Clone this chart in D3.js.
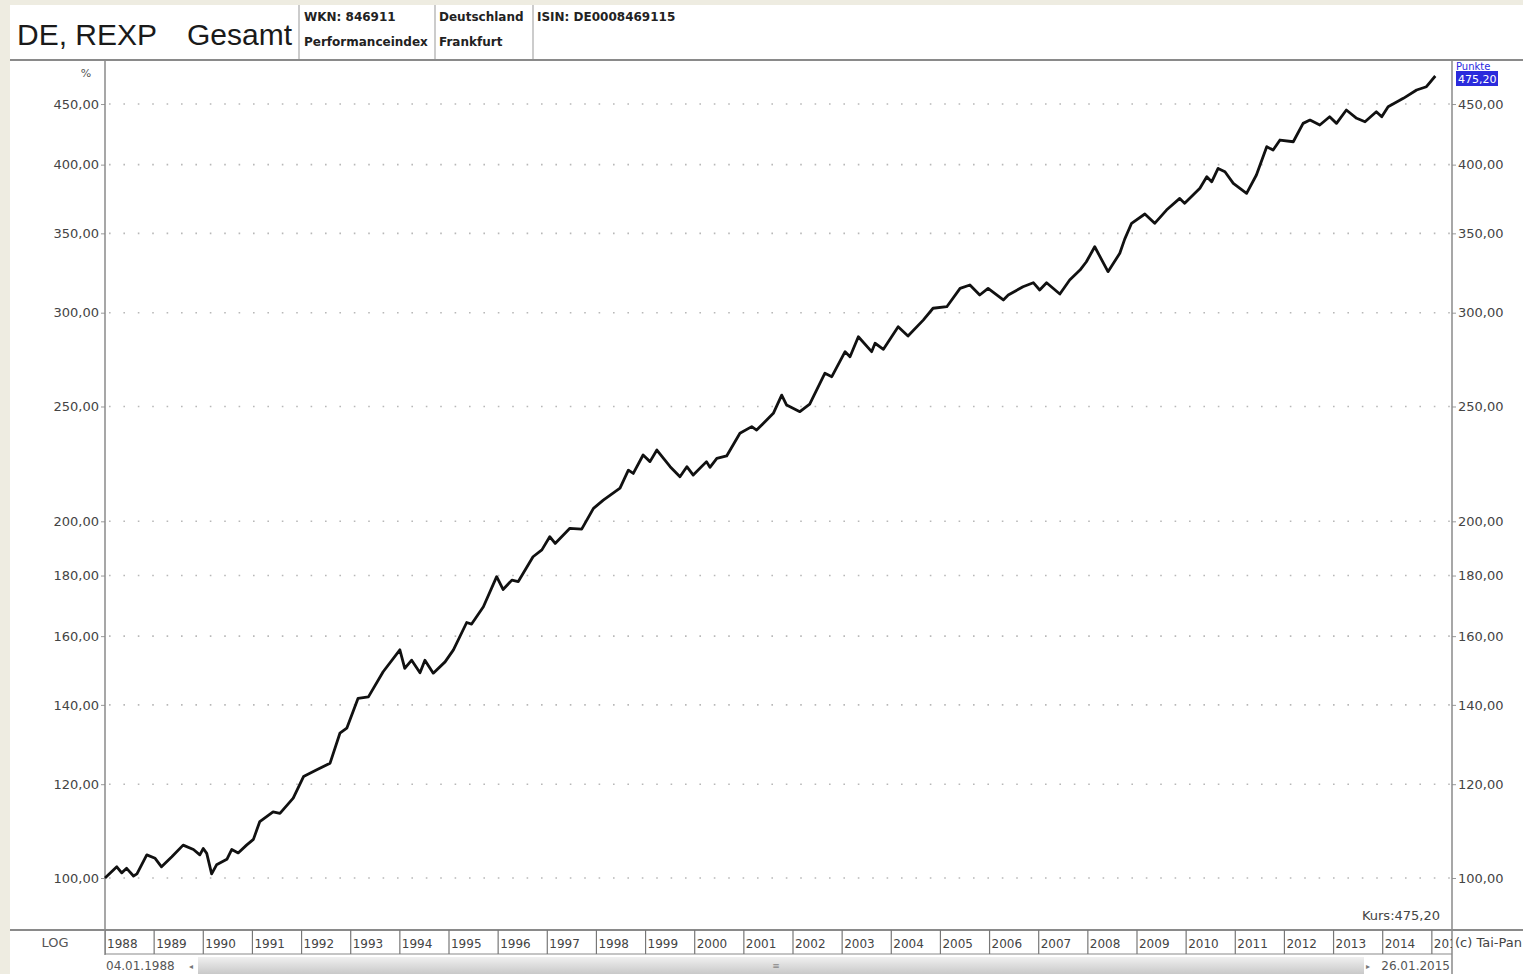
<!DOCTYPE html>
<html>
<head>
<meta charset="utf-8">
<script src="https://cdn.jsdelivr.net/npm/d3@7"></script>
<style>
body { margin: 0; background: #eeece1; }
svg { display: block; }
text { font-family: "DejaVu Sans", sans-serif; }
</style>
</head>
<body>
<svg id="chart"></svg>
<script>
// REXP Performanceindex (decimal year, points)
var years = [1988.00,1988.24,1988.34,1988.44,1988.58,1988.65,1988.85,1989.02,1989.15,1989.36,
  1989.59,1989.80,1989.93,1990.00,1990.07,1990.17,1990.27,1990.48,1990.58,1990.71,
  1990.88,1991.02,1991.15,1991.42,1991.56,1991.83,1992.04,1992.31,1992.58,1992.78,
  1992.92,1993.15,1993.36,1993.66,1994.00,1994.10,1994.24,1994.41,1994.51,1994.68,
  1994.92,1995.09,1995.36,1995.46,1995.70,1995.97,1996.10,1996.28,1996.41,1996.71,
  1996.89,1997.05,1997.16,1997.46,1997.70,1997.94,1998.14,1998.48,1998.65,1998.75,
  1998.95,1999.09,1999.23,1999.50,1999.70,1999.84,1999.97,2000.24,2000.31,2000.45,
  2000.65,2000.92,2001.16,2001.26,2001.60,2001.77,2001.87,2002.14,2002.34,2002.65,
  2002.79,2003.06,2003.16,2003.33,2003.60,2003.67,2003.84,2004.14,2004.34,2004.65,
  2004.85,2005.13,2005.40,2005.60,2005.80,2005.97,2006.28,2006.38,2006.68,2006.89,
  2007.02,2007.16,2007.43,2007.63,2007.84,2007.97,2008.14,2008.41,2008.65,2008.75,
  2008.89,2009.16,2009.36,2009.60,2009.87,2009.97,2010.28,2010.42,2010.52,2010.65,
  2010.79,2010.96,2011.23,2011.43,2011.64,2011.77,2011.91,2012.18,2012.38,2012.52,
  2012.72,2012.92,2013.06,2013.26,2013.47,2013.64,2013.87,2013.98,2014.11,2014.42,
  2014.69,2014.89,2015.07];
var values = [100.0,102.2,101.0,101.9,100.4,100.8,104.6,103.9,102.2,104.2,
  106.6,105.7,104.6,105.9,104.9,100.8,102.6,103.7,105.7,105.0,
  106.6,107.8,111.6,113.7,113.4,116.8,121.8,123.4,125.0,132.5,
  133.8,141.8,142.2,149.3,155.8,150.3,152.7,149.0,152.7,148.9,
  152.2,155.8,164.3,163.8,169.4,179.6,175.2,178.4,177.9,186.7,
  189.2,194.1,191.6,197.3,197.0,205.1,208.4,213.3,220.9,219.5,
  227.5,224.6,229.7,222.4,218.1,222.4,218.8,224.6,222.1,226.0,
  227.1,237.3,240.4,238.8,246.7,255.6,250.7,247.5,251.2,266.7,
  264.9,278.1,275.4,286.3,278.1,282.7,279.4,291.9,286.7,295.7,
  302.6,303.5,314.5,316.6,310.5,314.5,307.5,310.5,315.5,318.0,
  313.5,318.0,311.1,319.7,325.9,331.2,341.0,324.9,336.7,346.1,
  356.9,363.4,356.9,366.2,374.6,371.0,382.0,390.7,386.9,397.1,
  394.5,385.7,378.3,392.0,414.2,411.5,419.6,418.2,433.4,436.2,
  432.0,439.0,433.4,444.8,437.7,434.8,443.3,439.0,447.7,455.0,
  462.4,465.4,475.2];
var yTicks = [100, 120, 140, 160, 180, 200, 250, 300, 350, 400, 450];
var yearLabels = [1988,1989,1990,1991,1992,1993,1994,1995,1996,1997,1998,1999,2000,2001,
  2002,2003,2004,2005,2006,2007,2008,2009,2010,2011,2012,2013,2014,2015];
var lastValue = '475,20';

var W = 1523, H = 974;
var plotL = 105, plotR = 1452, plotT = 60, plotB = 930;

var fmt = function (d) { return d.toFixed(2).replace('.', ','); };

var svg = d3.select('#chart').attr('width', W).attr('height', H);

svg.append('rect').attr('x', 10).attr('y', 5).attr('width', W - 10).attr('height', H - 5).attr('fill', '#fff');

var x = d3.scaleLinear().domain([1988, 2015.41]).range([plotL, plotR]);
var y = d3.scaleLog().domain([90.39, 490.2]).range([plotB, plotT]);

// header
svg.append('text').attr('x', 17).attr('y', 45).text('DE, REXP')
  .style('font-family', '"Liberation Sans", Arial, sans-serif').style('font-size', '30px').attr('fill', '#1a1a1a');
svg.append('text').attr('x', 187).attr('y', 45).text('Gesamt')
  .style('font-family', '"Liberation Sans", Arial, sans-serif').style('font-size', '30px').attr('fill', '#1a1a1a');

[299, 435, 533].forEach(function (px) {
  svg.append('line').attr('x1', px).attr('x2', px).attr('y1', 5).attr('y2', 59)
    .attr('stroke', '#999').attr('stroke-width', 1);
});
var header = [
  {x: 304, y: 21, t: 'WKN: 846911'},
  {x: 304, y: 46, t: 'Performanceindex'},
  {x: 439, y: 21, t: 'Deutschland'},
  {x: 439, y: 46, t: 'Frankfurt'},
  {x: 537, y: 21, t: 'ISIN: DE0008469115'}
];
svg.selectAll('text.hdr').data(header).enter().append('text')
  .attr('class', 'hdr')
  .attr('x', function (d) { return d.x; })
  .attr('y', function (d) { return d.y; })
  .text(function (d) { return d.t; })
  .style('font-size', '12px').style('font-weight', 'bold').attr('fill', '#222');

svg.append('line').attr('x1', 10).attr('x2', W).attr('y1', 60).attr('y2', 60)
  .attr('stroke', '#8a8a8a').attr('stroke-width', 2);

// dotted grid
svg.selectAll('line.grid').data(yTicks).enter().append('line')
  .attr('class', 'grid')
  .attr('x1', plotL + 4).attr('x2', plotR)
  .attr('y1', function (d) { return y(d); })
  .attr('y2', function (d) { return y(d); })
  .attr('stroke', '#b8b8b8').attr('stroke-width', 1.6)
  .attr('stroke-dasharray', '1.6,12.8');

// axes
var yl = svg.append('g').attr('transform', 'translate(' + plotL + ',0)')
  .call(d3.axisLeft(y).tickValues(yTicks).tickFormat(fmt).tickSize(4).tickPadding(2));
var yr = svg.append('g').attr('transform', 'translate(' + plotR + ',0)')
  .call(d3.axisRight(y).tickValues(yTicks).tickFormat(fmt).tickSize(4).tickPadding(2));
[yl, yr].forEach(function (g) {
  g.select('.domain').remove();
  g.selectAll('line').attr('stroke', '#999');
  g.selectAll('text').style('font-family', '"DejaVu Sans", sans-serif').style('font-size', '13px').attr('fill', '#444');
});

svg.append('line').attr('x1', plotL).attr('x2', plotL).attr('y1', plotT).attr('y2', 955)
  .attr('stroke', '#8a8a8a').attr('stroke-width', 1.5);
svg.append('line').attr('x1', plotR).attr('x2', plotR).attr('y1', plotT).attr('y2', H)
  .attr('stroke', '#8a8a8a').attr('stroke-width', 1.5);

svg.append('text').attr('x', 86).attr('y', 77).text('%')
  .attr('text-anchor', 'middle').style('font-size', '11px').attr('fill', '#555');

// price line
var pts = years.map(function (d, i) { return [d, values[i]]; });
var line = d3.line()
  .x(function (d) { return x(d[0]); })
  .y(function (d) { return y(d[1]); });
svg.append('path').datum(pts)
  .attr('d', line)
  .attr('fill', 'none').attr('stroke', '#111').attr('stroke-width', 2.8)
  .attr('stroke-linejoin', 'round');

svg.append('text').attr('x', 1440).attr('y', 920).attr('text-anchor', 'end')
  .text('Kurs:' + lastValue).style('font-size', '13px').attr('fill', '#444');

// last value marker on right axis
svg.append('text').attr('x', 1456).attr('y', 70).text('Punkte')
  .style('font-size', '10px').attr('fill', '#2a2ae0');
svg.append('rect').attr('x', 1456).attr('y', 71).attr('width', 42).attr('height', 15).attr('fill', '#2b2bdc');
svg.append('text').attr('x', 1458).attr('y', 83).text(lastValue)
  .style('font-size', '11px').attr('fill', '#fff');

// time axis cells
svg.append('line').attr('x1', 10).attr('x2', W).attr('y1', 930).attr('y2', 930)
  .attr('stroke', '#8a8a8a').attr('stroke-width', 2);
svg.append('line').attr('x1', plotL).attr('x2', plotR).attr('y1', 954).attr('y2', 954)
  .attr('stroke', '#8a8a8a').attr('stroke-width', 1.2);
svg.append('text').attr('x', 55).attr('y', 947).attr('text-anchor', 'middle')
  .text('LOG').style('font-size', '13px').attr('fill', '#555');

svg.append('clipPath').attr('id', 'clipYears').append('rect')
  .attr('x', plotL).attr('y', 930).attr('width', plotR - plotL).attr('height', 25);
var cells = svg.append('g').attr('clip-path', 'url(#clipYears)');
cells.selectAll('line').data(yearLabels).enter().append('line')
  .attr('x1', function (d) { return x(d); })
  .attr('x2', function (d) { return x(d); })
  .attr('y1', 930).attr('y2', 954)
  .attr('stroke', '#777').attr('stroke-width', 1.2);
cells.selectAll('text').data(yearLabels).enter().append('text')
  .attr('x', function (d) { return x(d) + 2; })
  .attr('y', 948)
  .text(function (d) { return d; })
  .style('font-size', '12px').attr('fill', '#444');

svg.append('text').attr('x', 1455).attr('y', 947).text('(c) Tai-Pan')
  .style('font-size', '13px').attr('fill', '#444');

// scroll bar row
var grad = svg.append('linearGradient').attr('id', 'sb').attr('x1', 0).attr('x2', 0).attr('y1', 0).attr('y2', 1);
grad.append('stop').attr('offset', 0).attr('stop-color', '#f0f0f0');
grad.append('stop').attr('offset', 1).attr('stop-color', '#c9c9c9');
svg.append('rect').attr('x', 198).attr('y', 957).attr('width', 1166).attr('height', 17).attr('fill', 'url(#sb)');
svg.append('text').attr('x', 776).attr('y', 969).attr('text-anchor', 'middle').text('≡')
  .style('font-size', '9px').attr('fill', '#888');
svg.append('text').attr('x', 106).attr('y', 970).text('04.01.1988')
  .style('font-size', '12px').attr('fill', '#555');
svg.append('text').attr('x', 189).attr('y', 969).text('◂')
  .style('font-size', '8px').attr('fill', '#777');
svg.append('text').attr('x', 1450).attr('y', 970).attr('text-anchor', 'end').text('26.01.2015')
  .style('font-size', '12px').attr('fill', '#555');
svg.append('text').attr('x', 1366).attr('y', 969).text('▸')
  .style('font-size', '8px').attr('fill', '#777');
</script>
</body>
</html>
